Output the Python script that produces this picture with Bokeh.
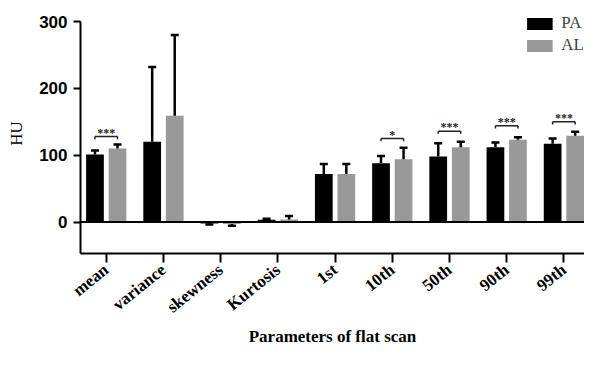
from bokeh.plotting import figure
from bokeh.models import Range1d, FixedTicker, Span, Legend
from bokeh.core.properties import value
from bokeh.embed import file_html
from bokeh.resources import INLINE

categories = ["mean", "variance", "skewness", "Kurtosis", "1st", "10th", "50th", "90th", "99th"]
pa = [101, 120, -2, 3.5, 72, 88, 98, 112, 117]
pa_err_end = [107, 232, -3.5, 5, 87, 99, 118, 119, 125]
al = [110, 159, -3, 4, 72, 94, 112, 123, 129]
al_err_end = [116, 280, -5.5, 9, 87, 111, 120, 127, 135]
sig_cats = ["mean", "10th", "50th", "90th", "99th"]
sig_marks = ["***", "*", "***", "***", "***"]
sig_y = [128, 125, 136, 144, 150]
y_ticks = [0, 100, 200, 300]

SERIF = "Liberation Serif"
SANS = "Liberation Sans"
OFF = 0.197
BW = 0.31

idx = list(range(len(categories)))
x_pa = [i - OFF for i in idx]
x_al = [i + OFF for i in idx]

p = figure(width=584, height=349, output_backend="svg", toolbar_location=None,
           x_range=Range1d(-0.45, 8.36), y_range=Range1d(-47, 312),
           min_border_left=80, min_border_right=0, min_border_top=13, min_border_bottom=96)
p.outline_line_color = None
p.grid.visible = False

r_pa = p.vbar(x=x_pa, top=pa, bottom=0, width=BW, fill_color="black", line_color=None)
r_al = p.vbar(x=x_al, top=al, bottom=0, width=BW, fill_color="#999999", line_color=None)

# error bars (one-sided)
p.segment(x0=x_pa, y0=pa, x1=x_pa, y1=pa_err_end, line_color="black", line_width=2.5)
p.segment(x0=x_al, y0=al, x1=x_al, y1=al_err_end, line_color="black", line_width=2.5)
p.scatter(x=x_pa, y=pa_err_end, marker="dash", size=8, line_color="black", line_width=2.5)
p.scatter(x=x_al, y=al_err_end, marker="dash", size=8, line_color="black", line_width=2.5)

# significance brackets
si = [categories.index(c) for c in sig_cats]
bl = [i - OFF for i in si]
br = [i + OFF for i in si]
p.segment(x0=bl, y0=sig_y, x1=br, y1=sig_y, line_color="#222222", line_width=1.5)
p.segment(x0=bl, y0=sig_y, x1=bl, y1=[y - 4 for y in sig_y], line_color="#222222", line_width=1.5)
p.segment(x0=br, y0=sig_y, x1=br, y1=[y - 4 for y in sig_y], line_color="#222222", line_width=1.5)
p.text(x=si, y=sig_y, text=sig_marks, text_align="center", text_baseline="bottom",
       text_font=value(SERIF), text_font_style="bold", text_font_size="12px",
       text_color="#222222", y_offset=3)

p.add_layout(Span(location=0, dimension="width", line_color="black", line_width=2))

# axes
p.yaxis.ticker = FixedTicker(ticks=y_ticks)
p.yaxis.bounds = (-47, 300)
p.yaxis.axis_label = "HU"
p.yaxis.axis_label_text_font = SERIF
p.yaxis.axis_label_text_font_style = "normal"
p.yaxis.axis_label_text_font_size = "17px"
p.yaxis.axis_label_standoff = 10
p.yaxis.major_label_text_font = SANS
p.yaxis.major_label_text_font_style = "bold"
p.yaxis.major_label_text_font_size = "17px"
p.yaxis.major_label_standoff = 6
p.yaxis.major_tick_out = 7
p.yaxis.major_tick_in = 0

p.xaxis.ticker = FixedTicker(ticks=idx)
p.xaxis.major_label_overrides = {i: c for i, c in zip(idx, categories)}
p.xaxis.major_label_orientation = 0.68
p.xaxis.major_label_text_font = SERIF
p.xaxis.major_label_text_font_style = "bold"
p.xaxis.major_label_text_font_size = "17px"
p.xaxis.major_label_standoff = 5
p.xaxis.major_tick_out = 9
p.xaxis.major_tick_in = 0
p.xaxis.axis_label = "Parameters of flat scan"
p.xaxis.axis_label_text_font = SERIF
p.xaxis.axis_label_text_font_style = "bold"
p.xaxis.axis_label_text_font_size = "17px"
p.xaxis.axis_label_standoff = 0

for ax in (p.xaxis, p.yaxis):
    ax.axis_line_width = 2
    ax.axis_line_color = "black"
    ax.major_tick_line_width = 2
    ax.major_tick_line_color = "black"
    ax.minor_tick_line_color = None
    ax.major_label_text_color = "black"
    ax.axis_label_text_color = "black"

legend = Legend(items=[("PA", [r_pa]), ("AL", [r_al])], location="top_right",
                glyph_width=32, glyph_height=15, label_standoff=6, spacing=2,
                padding=0, margin=0, border_line_color=None, background_fill_alpha=0,
                label_text_font=SERIF, label_text_font_size="17px", label_height=15)
p.add_layout(legend, "center")

open("out.html", "w").write(file_html(p, INLINE))
